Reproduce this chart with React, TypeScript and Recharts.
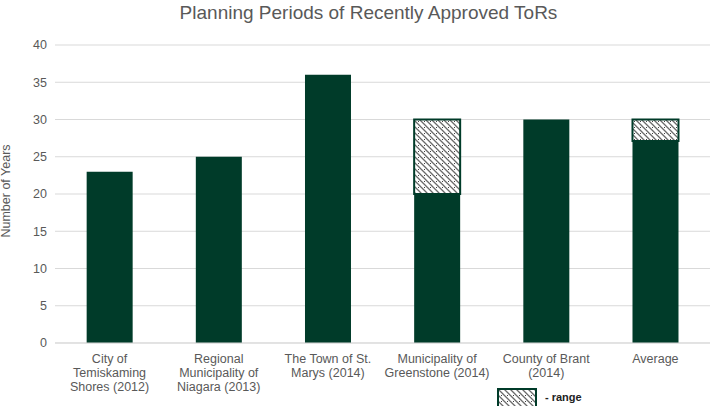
import { BarChart, Bar, XAxis, YAxis, CartesianGrid } from "recharts";

const categories = [
  "City of Temiskaming Shores (2012)",
  "Regional Municipality of Niagara (2013)",
  "The Town of St. Marys (2014)",
  "Municipality of Greenstone (2014)",
  "County of Brant (2014)",
  "Average",
];
const tickLines = [
  ["City of", "Temiskaming", "Shores (2012)"],
  ["Regional", "Municipality of", "Niagara (2013)"],
  ["The Town of St.", "Marys (2014)"],
  ["Municipality of", "Greenstone (2014)"],
  ["County of Brant", "(2014)"],
  ["Average"],
];
const baseYears = [23, 25, 36, 20, 30, 27.1];
const rangeYears = [0, 0, 0, 10, 0, 2.9];
const yTicks = [0, 5, 10, 15, 20, 25, 30, 35, 40];

const data = categories.map((name, i) => ({
  name,
  base: baseYears[i],
  range: rangeYears[i],
}));

const GREEN = "#003B29";
const GREY = "#595959";
const FONT = "'Liberation Sans', Arial, sans-serif";

function CategoryTick({ x, y, index }: { x?: number; y?: number; index?: number }) {
  const lines = tickLines[index ?? 0] || [];
  return (
    <text x={x} y={y} textAnchor="middle" fill={GREY} fontSize={12.5} fontFamily={FONT}>
      {lines.map((l, i) => (
        <tspan key={i} x={x} dy={i === 0 ? 12 : 14}>{l}</tspan>
      ))}
    </text>
  );
}

function YLabel() {
  return (
    <text x={10} y={191} transform="rotate(-90 10 191)" textAnchor="middle" fill={GREY} fontSize={12.5} fontFamily={FONT}>
      Number of Years
    </text>
  );
}

export default function App() {
  return (
    <div style={{ position: "absolute", left: 0, top: 0, width: 717, height: 406, background: "#fff", overflow: "hidden" }}>
      <div style={{ position: "absolute", top: 2, left: 10, width: 717, textAlign: "center", fontFamily: FONT, fontSize: 19, color: GREY }}>
        Planning Periods of Recently Approved ToRs
      </div>
      <BarChart width={717} height={406} data={data} margin={{ top: 45, right: 7, left: 0, bottom: 33 }} barCategoryGap="29%">
        <defs>
          <pattern id="hatch" width={6} height={6} patternUnits="userSpaceOnUse">
            <rect width={6} height={6} fill="#fff" />
            <path d="M0,0 L6,6 M-1,5 L1,7 M5,-1 L7,1" stroke="#6a6a6a" strokeWidth={1.3} />
            <rect x={4} y={1} width={1} height={1} fill="#444" />
          </pattern>
        </defs>
        <CartesianGrid vertical={false} stroke="#d9d9d9" />
        <XAxis dataKey="name" height={30} interval={0} tickLine={false} axisLine={{ stroke: "#d9d9d9" }} tick={<CategoryTick />} />
        <YAxis
          width={55}
          domain={[0, 40]}
          ticks={yTicks}
          tickLine={false}
          axisLine={false}
          tick={{ fill: GREY, fontSize: 12.5, fontFamily: FONT }}
          label={<YLabel />}
        />
        <Bar dataKey="base" stackId="a" fill={GREEN} isAnimationActive={false} />
        <Bar dataKey="range" stackId="a" fill="url(#hatch)" stroke={GREEN} strokeWidth={2} isAnimationActive={false} />
      </BarChart>
      <div style={{ position: "absolute", left: 497, top: 388, display: "flex", alignItems: "center", gap: 8, fontFamily: FONT }}>
        <svg width={40} height={20} style={{ display: "block" }}>
          <rect x={1} y={1} width={38} height={18} fill="url(#hatch)" stroke={GREEN} strokeWidth={2} />
        </svg>
        <span style={{ fontSize: 11, fontWeight: "bold", color: "#222", marginTop: -2 }}>- range</span>
      </div>
    </div>
  );
}
